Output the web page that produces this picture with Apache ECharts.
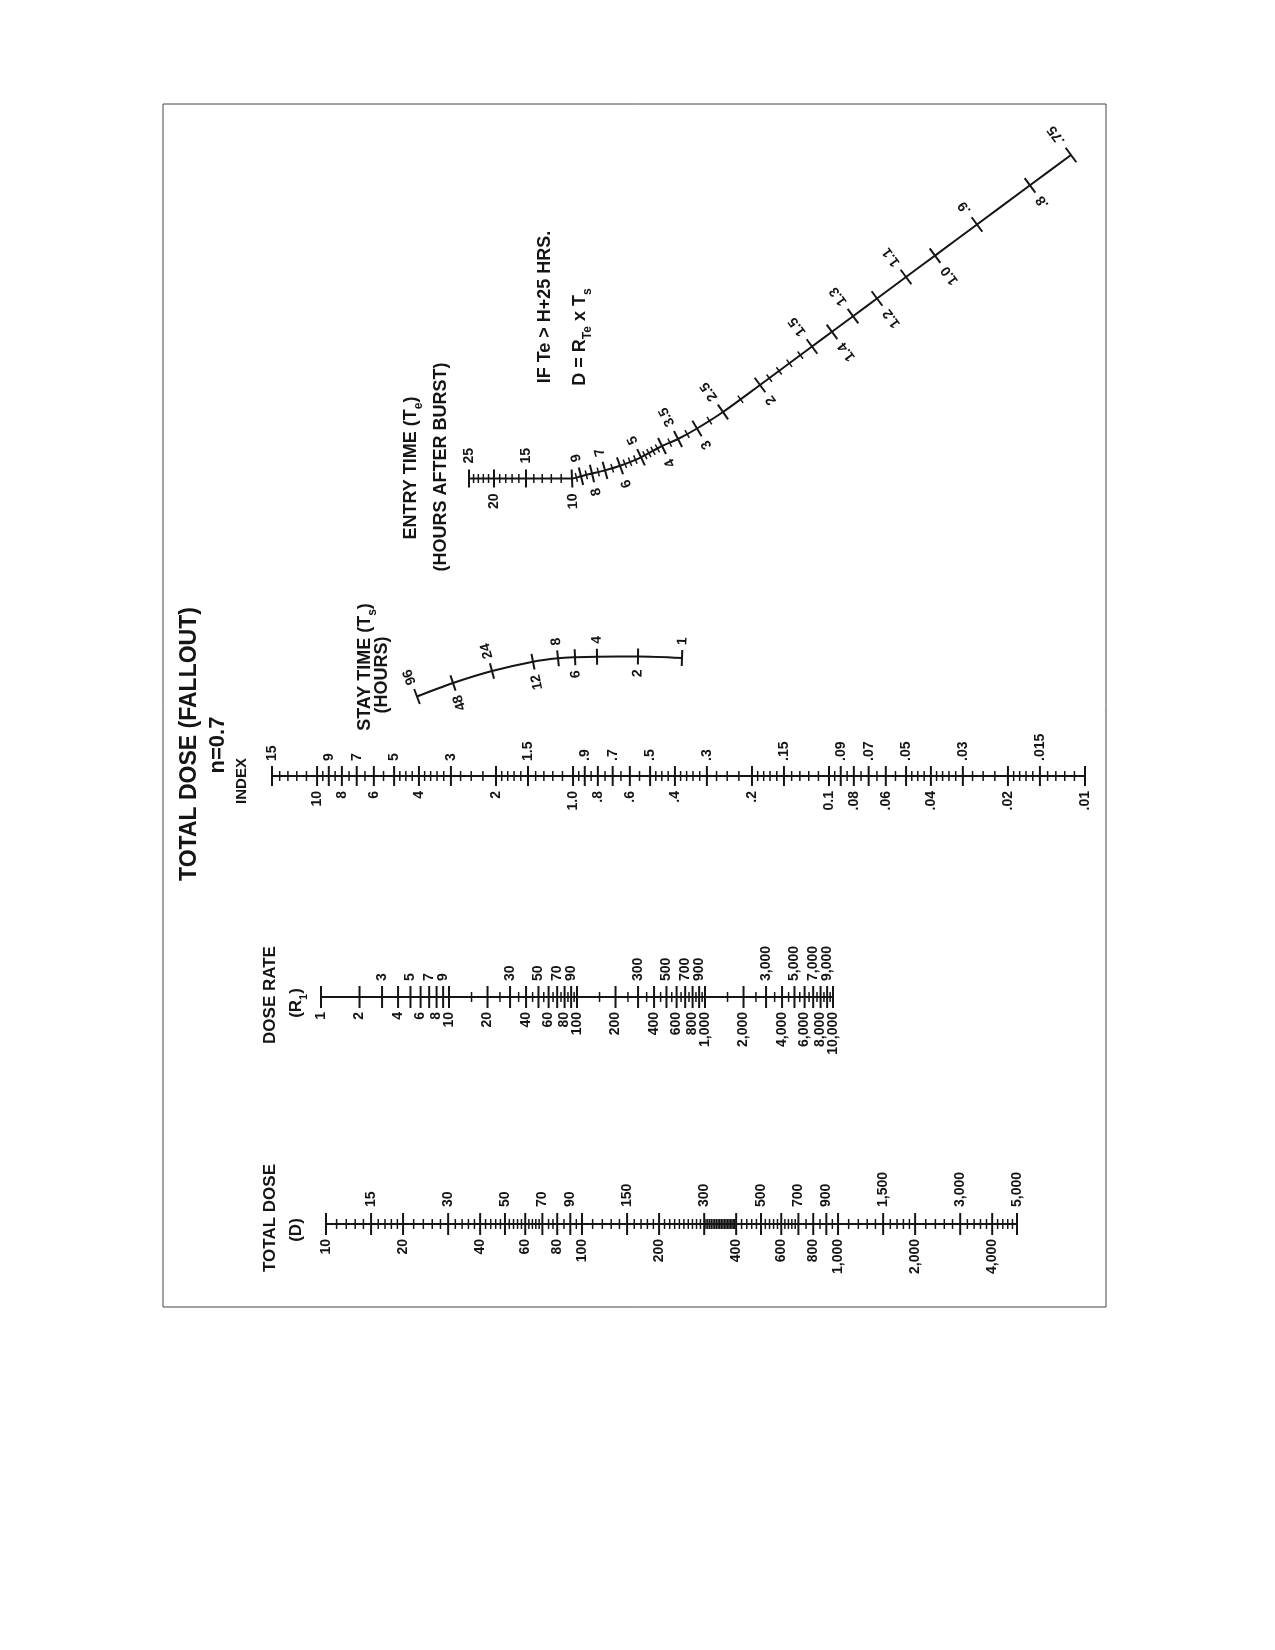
<!DOCTYPE html>
<html>
<head>
<meta charset="utf-8">
<script src="https://cdn.jsdelivr.net/npm/echarts@6/dist/echarts.min.js"></script>
<style>html,body{margin:0;padding:0;background:#fff}#chart{width:1275px;height:1650px}</style>
</head>
<body>
<div id="chart"></div>
<script>
// ---------------- DATA ----------------
// Total dose (D) scale
const doseLabelsBelow = [10, 20, 40, 60, 80, 100, 200, 400, 600, 800, 1000, 2000, 4000];
const doseLabelsAbove = [15, 30, 50, 70, 90, 150, 300, 500, 700, 900, 1500, 3000, 5000];
const doseMinorTicks = [11, 12, 13, 14, 16, 17, 18, 19, 22, 24, 26, 28, 32, 34, 36, 38, 42, 44, 46, 48,
  52, 54, 56, 58, 62, 64, 66, 68, 74, 77, 85, 95, 110, 120, 130, 140, 160, 170, 180, 190,
  210, 220, 230, 240, 250, 260, 270, 280, 290, 305, 310, 315, 320, 325, 330, 335, 340, 345, 350, 355, 360,
  365, 370, 375, 380, 385, 390, 395, 420, 440, 460, 480, 520, 540, 560, 580, 620, 640, 660, 680, 750, 850, 950,
  1100, 1200, 1300, 1400, 1600, 1700, 1800, 1900, 2200, 2400, 2600, 2800, 3200, 3400, 3600, 3800,
  4200, 4400, 4600, 4800];

// Dose rate (R1) scale
const rateLabelsBelow = [1, 2, 4, 6, 8, 10, 20, 40, 60, 80, 100, 200, 400, 600, 800, 1000, 2000, 4000, 6000, 8000, 10000];
const rateLabelsAbove = [3, 5, 7, 9, 30, 50, 70, 90, 300, 500, 700, 900, 3000, 5000, 7000, 9000];
const rateMinorTicks = [15, 25, 35, 45, 55, 65, 75, 85, 95, 150, 250, 350, 450, 550, 650, 750, 850, 950,
  1500, 2500, 3500, 4500, 5500, 6500, 7500, 8500, 9500];

// Index scale
const indexLabelsBelow = [10, 8, 6, 4, 2, 1, 0.8, 0.6, 0.4, 0.2, 0.1, 0.08, 0.06, 0.04, 0.02, 0.01];
const indexTextBelow = ['10', '8', '6', '4', '2', '1.0', '.8', '.6', '.4', '.2', '0.1', '.08', '.06', '.04', '.02', '.01'];
const indexLabelsAbove = [15, 9, 7, 5, 3, 1.5, 0.9, 0.7, 0.5, 0.3, 0.15, 0.09, 0.07, 0.05, 0.03, 0.015];
const indexTextAbove = ['15', '9', '7', '5', '3', '1.5', '.9', '.7', '.5', '.3', '.15', '.09', '.07', '.05', '.03', '.015'];
const indexMinorMantissas = [1.1, 1.2, 1.3, 1.4, 1.6, 1.7, 1.8, 1.9, 2.25, 2.5, 2.75, 3.2, 3.4, 3.6, 3.8, 4.25, 4.5, 4.75, 5.5, 6.5, 7.5, 8.5, 9.5];
const indexDecades = [0.01, 0.1, 1, 10];

// Stay time (Ts) curved scale: values and their points in the nomogram plane
const stayTimeValues = [96, 48, 24, 12, 8, 6, 4, 2, 1];
const stayTimeText = ['96', '48', '24', '12', '8', '6', '4', '2', '1'];
const stayTimePlaneX = [417, 453, 492, 533, 558, 575, 597, 638, 682];
const stayTimePlaneY = [696.5, 683, 671, 661.7, 658.3, 657.3, 656.7, 656.5, 658];

// Entry time (Te) curved scale
const entryTimeValues = [25, 20, 15, 10, 9, 8, 7, 6, 5, 4, 3.5, 3, 2.5, 2, 1.5, 1.4, 1.3, 1.2, 1.1, 1.0, 0.9, 0.8, 0.75];
const entryTimeText = ['25', '20', '15', '10', '9', '8', '7', '6', '5', '4', '3.5', '3', '2.5', '2', '1.5', '1.4', '1.3', '1.2', '1.1', '1.0', '.9', '.8', '.75'];
const entryTimePlaneX = [469, 494, 526, 572, 581, 592, 605, 620, 641, 662, 678, 697, 723, 760, 812, 832, 853, 877, 906, 935, 977, 1030, 1071];
const entryTimePlaneY = [478.5, 478.5, 478.5, 478.5, 476.2, 473.5, 470.4, 465.8, 457.3, 446, 439, 428.5, 412, 385, 346.5, 331.8, 316.2, 298.5, 277, 255.6, 224.5, 185.3, 155];
const entryTimeMinorTicks = [24, 23, 22, 21, 19, 18, 17, 16, 14, 13, 12, 11, 9.5, 8.5, 7.5, 6.5, 5.75, 5.5, 5.25,
  4.8, 4.6, 4.4, 4.2, 3.75, 3.25, 2.75, 2.25, 1.9, 1.8, 1.7, 1.6];

// ---------------- RENDER ----------------
const FONT = '"Liberation Sans", Arial, Helvetica, sans-serif';
const INK = '#151515';
const fmtNum = v => v.toLocaleString('en-US');

const indexMinorTicks = [];
indexDecades.forEach(d => indexMinorMantissas.forEach(m => {
  const v = +(m * d).toPrecision(6);
  if (v < 15) indexMinorTicks.push(v);
}));

function straightScaleSeries(axisIdx, belowVals, belowTxt, aboveVals, aboveTxt, minorVals, cfg) {
  const ticks = [];
  belowVals.forEach((v, i) => ticks.push({ v, text: belowTxt[i], side: 1, major: true }));
  aboveVals.forEach((v, i) => ticks.push({ v, text: aboveTxt[i], side: -1, major: true }));
  minorVals.forEach(v => ticks.push({ v, major: false }));
  return {
    type: 'custom', xAxisIndex: axisIdx, yAxisIndex: axisIdx, silent: true, clip: false, z: 5,
    data: ticks.map(t => [t.v, 0]),
    renderItem(params, api) {
      const t = ticks[params.dataIndex];
      const p = api.coord([t.v, 0]);
      const len = t.major ? cfg.major : cfg.minor;
      const children = [{
        type: 'line',
        shape: { x1: p[0], y1: p[1] - len, x2: p[0], y2: p[1] + len },
        style: { stroke: INK, lineWidth: t.major ? 2 : 1.5 }
      }];
      if (t.text) {
        const gap = t.side > 0 ? cfg.gapBelow : cfg.gapAbove;
        children.push({
          type: 'text', x: p[0], y: p[1] + t.side * gap, rotation: Math.PI / 2,
          style: {
            text: t.text, fill: INK, font: 'bold ' + cfg.font + 'px ' + FONT,
            align: t.side > 0 ? 'right' : 'left', verticalAlign: 'middle'
          }
        });
      }
      return { type: 'group', children };
    }
  };
}

function curveScaleSeries(vals, texts, xs, ys, minorVals, cfg) {
  const ticks = [];
  vals.forEach((v, i) => ticks.push({
    x: xs[i], y: ys[i], i, major: true, text: texts[i], side: i % 2 === 0 ? -1 : 1
  }));
  minorVals.forEach(v => {
    for (let k = 0; k < vals.length - 1; k++) {
      const a = vals[k], b = vals[k + 1];
      if ((a - v) * (v - b) > 0) {
        const t = Math.log(a / v) / Math.log(a / b);
        ticks.push({ x: xs[k] + t * (xs[k + 1] - xs[k]), y: ys[k] + t * (ys[k + 1] - ys[k]), k, major: false });
        break;
      }
    }
  });
  return {
    type: 'custom', xAxisIndex: 0, yAxisIndex: 0, silent: true, clip: false, z: 5,
    data: ticks.map(t => [t.x, t.y]),
    renderItem(params, api) {
      const tk = ticks[params.dataIndex];
      const p = api.coord([tk.x, tk.y]);
      let i0, i1;
      if (tk.major) { i0 = Math.max(0, tk.i - 1); i1 = Math.min(vals.length - 1, tk.i + 1); }
      else { i0 = tk.k; i1 = tk.k + 1; }
      const pa = api.coord([xs[i0], ys[i0]]), pb = api.coord([xs[i1], ys[i1]]);
      let dx = pb[0] - pa[0], dy = pb[1] - pa[1];
      const L = Math.hypot(dx, dy) || 1; dx /= L; dy /= L;
      const nx = dy, ny = -dx; // normal on the "upper" side
      const len = tk.major ? cfg.major : cfg.minor;
      const children = [{
        type: 'line',
        shape: { x1: p[0] - nx * len, y1: p[1] - ny * len, x2: p[0] + nx * len, y2: p[1] + ny * len },
        style: { stroke: INK, lineWidth: tk.major ? 2 : 1.5 }
      }];
      if (tk.text) {
        const s = tk.side < 0 ? 1 : -1;
        children.push({
          type: 'text', x: p[0] + s * nx * cfg.gap, y: p[1] + s * ny * cfg.gap,
          rotation: Math.atan2(-ny, nx),
          style: {
            text: tk.text, fill: INK, font: 'bold ' + cfg.font + 'px ' + FONT,
            align: tk.side < 0 ? 'left' : 'right', verticalAlign: 'middle'
          }
        });
      }
      return { type: 'group', children };
    }
  };
}

function axisLineSeries(axisIdx, min, max) {
  return {
    type: 'line', xAxisIndex: axisIdx, yAxisIndex: axisIdx, silent: true, symbol: 'none',
    data: [[min, 0], [max, 0]], lineStyle: { color: INK, width: 2 }, z: 4
  };
}

function curveLineSeries(xs, ys) {
  return {
    type: 'line', xAxisIndex: 0, yAxisIndex: 0, silent: true, symbol: 'none', smooth: 0.3,
    data: xs.map((x, i) => [x, ys[i]]), lineStyle: { color: INK, width: 2 }, z: 4
  };
}

function rotText(x, y, text, size, rich) {
  const style = {
    text, fill: INK, font: 'bold ' + size + 'px ' + FONT,
    align: 'center', verticalAlign: 'middle', textAlign: 'center', textVerticalAlign: 'middle'
  };
  if (rich) style.rich = rich;
  return { type: 'text', x, y, rotation: Math.PI / 2, style, silent: true };
}
const subRich = size => ({
  n: { fontSize: size, fontWeight: 'bold', fontFamily: FONT, lineHeight: size + 10, verticalAlign: 'middle', color: INK },
  s: { fontSize: Math.round(size * 0.65), fontWeight: 'bold', fontFamily: FONT, lineHeight: size + 10, verticalAlign: 'bottom', color: INK }
});

const hiddenAxis = { show: false };
const logAxis = (idx, min, max, inverse) => ({
  gridIndex: idx, type: 'log', logBase: 10, min, max, inverse: !!inverse,
  axisLine: { show: false }, axisTick: { show: false }, axisLabel: { show: false }, splitLine: { show: false }
});

const option = {
  animation: false,
  backgroundColor: '#fff',
  grid: [
    { left: 0, top: 0, width: 1275, height: 1650, containLabel: false, outerBoundsMode: 'none' },
    { left: 326, top: 1204, width: 691, height: 40, containLabel: false, outerBoundsMode: 'none' },
    { left: 321, top: 977, width: 512, height: 40, containLabel: false, outerBoundsMode: 'none' },
    { left: 272, top: 756, width: 813, height: 40, containLabel: false, outerBoundsMode: 'none' }
  ],
  xAxis: [
    Object.assign({ gridIndex: 0, type: 'value', min: 0, max: 1275 }, hiddenAxis),
    logAxis(1, 10, 5000),
    logAxis(2, 1, 10000),
    logAxis(3, 0.01, 15, true)
  ],
  yAxis: [
    Object.assign({ gridIndex: 0, type: 'value', min: 0, max: 1650, inverse: true }, hiddenAxis),
    Object.assign({ gridIndex: 1, type: 'value', min: -1, max: 1 }, hiddenAxis),
    Object.assign({ gridIndex: 2, type: 'value', min: -1, max: 1 }, hiddenAxis),
    Object.assign({ gridIndex: 3, type: 'value', min: -1, max: 1 }, hiddenAxis)
  ],
  graphic: [
    { type: 'rect', shape: { x: 163, y: 104, width: 943, height: 1203 }, style: { fill: 'none', stroke: '#444', lineWidth: 1 }, silent: true },
    rotText(190, 744, 'TOTAL DOSE (FALLOUT)', 23),
    rotText(218, 745, 'n=0.7', 22),
    rotText(242, 781, 'INDEX', 15),
    rotText(270, 1218, 'TOTAL DOSE', 17),
    rotText(296, 1230, '(D)', 17),
    rotText(270, 995, 'DOSE RATE', 17),
    rotText(296, 1003, '{n|(R}{s|1}{n|)}', 17, subRich(17)),
    rotText(365, 667, '{n|STAY TIME (T}{s|s}{n|)}', 18, subRich(18)),
    rotText(382, 675, '(HOURS)', 18),
    rotText(411, 468, '{n|ENTRY TIME (T}{s|e}{n|)}', 18, subRich(18)),
    rotText(441, 467, '(HOURS AFTER BURST)', 18),
    rotText(545, 307, 'IF Te > H+25 HRS.', 18),
    rotText(580, 337, '{n|D = R}{s|Te}{n| x T}{s|s}', 18, subRich(18))
  ],
  series: [
    axisLineSeries(1, 10, 5000),
    straightScaleSeries(1, doseLabelsBelow, doseLabelsBelow.map(fmtNum), doseLabelsAbove, doseLabelsAbove.map(fmtNum), doseMinorTicks,
      { major: 11, minor: 5, gapAbove: 17, gapBelow: 15, font: 14 }),
    axisLineSeries(2, 1, 10000),
    straightScaleSeries(2, rateLabelsBelow, rateLabelsBelow.map(fmtNum), rateLabelsAbove, rateLabelsAbove.map(fmtNum), rateMinorTicks,
      { major: 11, minor: 5, gapAbove: 16, gapBelow: 15, font: 14 }),
    axisLineSeries(3, 0.01, 15),
    straightScaleSeries(3, indexLabelsBelow, indexTextBelow, indexLabelsAbove, indexTextAbove, indexMinorTicks,
      { major: 10, minor: 5, gapAbove: 15, gapBelow: 15, font: 14 }),
    curveLineSeries(stayTimePlaneX, stayTimePlaneY),
    curveScaleSeries(stayTimeValues, stayTimeText, stayTimePlaneX, stayTimePlaneY, [], { major: 8, minor: 4, gap: 13, font: 14 }),
    curveLineSeries(entryTimePlaneX, entryTimePlaneY),
    curveScaleSeries(entryTimeValues, entryTimeText, entryTimePlaneX, entryTimePlaneY, entryTimeMinorTicks, { major: 9, minor: 4.5, gap: 15, font: 14 })
  ]
};

const chart = echarts.init(document.getElementById('chart'), null, { renderer: 'canvas' });
chart.setOption(option);
</script>
</body>
</html>
